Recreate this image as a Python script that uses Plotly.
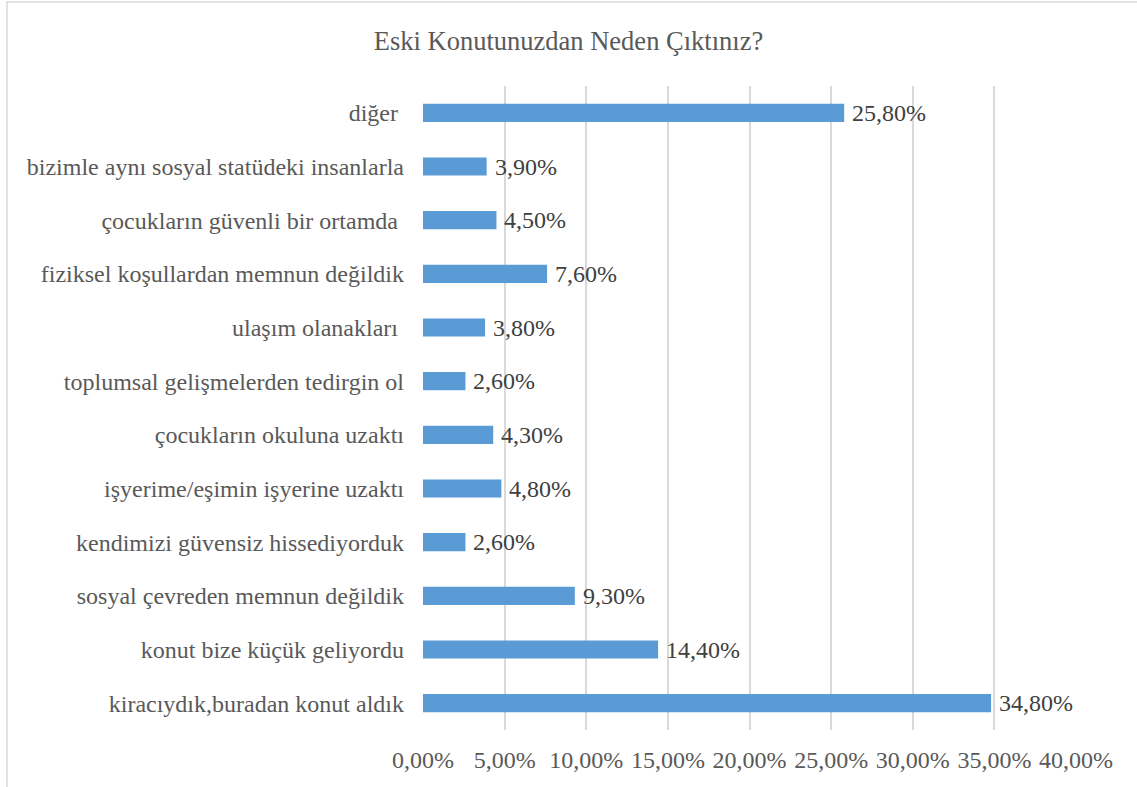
import plotly.graph_objects as go

categories = [
    "kiracıydık,buradan konut aldık",
    "konut bize küçük geliyordu",
    "sosyal çevreden memnun değildik",
    "kendimizi güvensiz hissediyorduk",
    "işyerime/eşimin işyerine uzaktı",
    "çocukların okuluna uzaktı",
    "toplumsal gelişmelerden tedirgin ol",
    "ulaşım olanakları ",
    "fiziksel koşullardan memnun değildik",
    "çocukların güvenli bir ortamda ",
    "bizimle aynı sosyal statüdeki insanlarla",
    "diğer ",
]
values = [34.8, 14.4, 9.3, 2.6, 4.8, 4.3, 2.6, 3.8, 7.6, 4.5, 3.9, 25.8]
tick_vals = [0, 5, 10, 15, 20, 25, 30, 35, 40]
tick_text = ["0,00%", "5,00%", "10,00%", "15,00%", "20,00%", "25,00%", "30,00%", "35,00%", "40,00%"]
value_labels = [f"{v:.2f}".replace(".", ",") + "%" for v in values]

FONT = "Liberation Serif"

W, H = 1137, 787
L, R, T, B = 423, 61, 86, 57
PW, PH = W - L - R, H - T - B

fig = go.Figure()
fig.add_trace(go.Bar(
    x=values, y=categories, orientation="h",
    marker=dict(color="#5B9BD5", line=dict(width=0)),
    hoverinfo="skip",
))
for v, c, t in zip(values, categories, value_labels):
    fig.add_annotation(x=v, y=c, text=t, showarrow=False, xanchor="left",
                       xshift=6, font=dict(family=FONT, size=24, color="#404040"))

fig.update_layout(
    width=W, height=H,
    margin=dict(l=L, r=R, t=T, b=B, autoexpand=False),
    paper_bgcolor="white", plot_bgcolor="white",
    bargap=0.66,
    showlegend=False,
    title=dict(text="Eski Konutunuzdan Neden Çıktınız?", x=0.5, xanchor="center",
               y=1 - 41 / H, yanchor="middle",
               font=dict(family=FONT, size=26.5, color="#595959")),
    xaxis=dict(range=[0, 40], tickvals=tick_vals, ticktext=tick_text,
               showgrid=True, gridcolor="#D9D9D9", gridwidth=1.5,
               zeroline=False, showline=False,
               tickfont=dict(family=FONT, size=24, color="#595959"),
               ticklabelstandoff=13),
    yaxis=dict(showgrid=False, zeroline=False, showline=False,
               tickfont=dict(family=FONT, size=24, color="#595959"),
               ticklabelstandoff=18),
    shapes=[dict(type="rect", xref="paper", yref="paper",
                 x0=-(L - 7) / PW, x1=1 + (R + 10) / PW,
                 y0=-(B + 10) / PH, y1=1 + (T - 2) / PH,
                 line=dict(color="#D9D9D9", width=1.5), fillcolor="rgba(0,0,0,0)")],
)
fig.write_html("out.html", config={"displayModeBar": False},
               post_script="document.body.style.margin='0';document.body.style.overflow='hidden';")
